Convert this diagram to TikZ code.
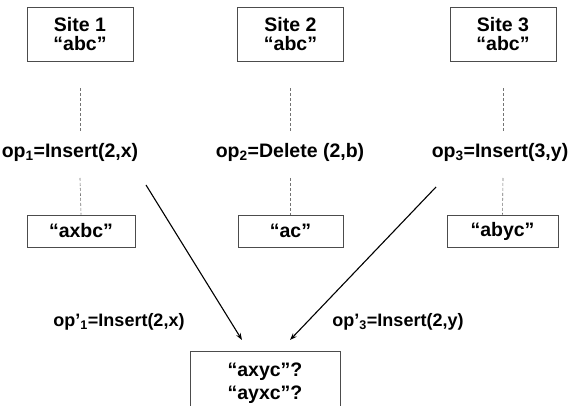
\documentclass[tikz,border=0pt]{standalone}
\usepackage{fontspec}
\setmainfont{Liberation Sans}
\usetikzlibrary{arrows.meta}

\tikzset{
  sitebox/.style={draw=black!70, line width=0.9pt, minimum width=106pt, minimum height=54pt,
    align=center, inner sep=0pt, font=\fontsize{19.5}{19.5}\selectfont\bfseries},
  statebox/.style={draw=black!70, line width=0.9pt, minimum height=32pt, inner sep=0pt,
    font=\fontsize{19.5}{23}\selectfont\bfseries},
  oplabel/.style={inner sep=0pt, font=\fontsize{19.5}{23}\selectfont\bfseries},
  timeline/.style={draw=black!55, line width=0.6pt, dash pattern=on 3pt off 2pt},
  >={Stealth[length=7pt,width=5pt]}
}

\begin{document}
\begin{tikzpicture}[x=1pt,y=-1pt]
  \useasboundingbox (0,0) rectangle (574,406);

  % sites
  \node [sitebox] (S1) at (80,34) {Site 1\\“abc”};
  \node [sitebox] (S2) at (290.5,34) {Site 2\\“abc”};
  \node [sitebox] (S3) at (503,34) {Site 3\\“abc”};

  % local operations
  \node [oplabel] (op1) at (70,152) {op\textsubscript{1}=Insert(2,x)};
  \node [oplabel] (op2) at (290,152) {op\textsubscript{2}=Delete (2,b)};
  \node [oplabel] (op3) at (500,152) {op\textsubscript{3}=Insert(3,y)};

  % states after local operation
  \node [statebox, minimum width=108pt] (R1) at (81,231) {“axbc”};
  \node [statebox, minimum width=105pt] (R2) at (290.5,231) {“ac”};
  \node [statebox, minimum width=111pt] (R3) at (502.5,231) {“abyc”};

  \draw [timeline] (S1.south) ++(0,27) -- (80,133);
  \draw [timeline] (80,178) -- (R1.north);
  \draw [timeline] (S2.south) ++(0,27) -- (290.5,133);
  \draw [timeline] (290.5,178) -- (R2.north);
  \draw [timeline] (S3.south) ++(0,27) -- (503,133);
  \draw [timeline] (503,178) -- (R3.north);

  % transformed operations
  \node [oplabel, font=\fontsize{18}{22}\selectfont\bfseries] (tp1) at (119,322) {op’\textsubscript{1}=Insert(2,x)};
  \node [oplabel, font=\fontsize{18}{22}\selectfont\bfseries] (tp3) at (398,322) {op’\textsubscript{3}=Insert(2,y)};

  \node [statebox, anchor=north, minimum width=150pt, minimum height=63pt, align=center] (F)
    at (265,351) {“axyc”?\\“ayxc”?};

  \coordinate (a1) at (146,185);
  \coordinate (a3) at (436,187);
  \coordinate (b1) at (242,340);
  \coordinate (b3) at (290,340);
  \draw [->, line width=1.1pt] (a1) to (b1);
  \draw [->, line width=1.1pt] (a3) to (b3);
\end{tikzpicture}
\end{document}
